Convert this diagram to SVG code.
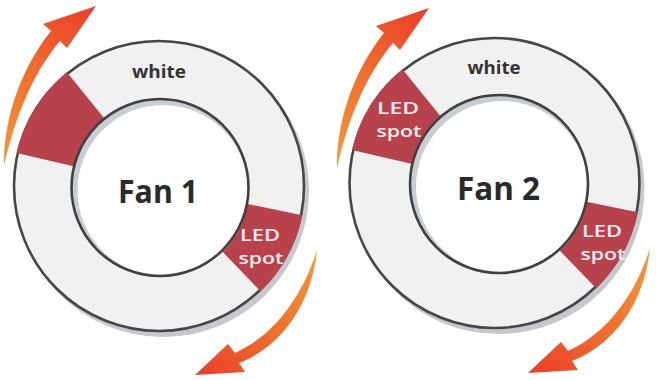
<svg xmlns="http://www.w3.org/2000/svg" width="657" height="380" viewBox="0 0 657 380">
<style>
.shadow{fill:#c6c8cc}
.ring{fill:#f1f1f1;stroke:#464646;stroke-width:2.6}
.spot{fill:#b8424b}
.incr{fill:#c9ccd1}
.inw{fill:#ffffff}
.inl{fill:none;stroke:#404040;stroke-width:2.6}
.lbl{font-family:"Open Sans","Liberation Sans",sans-serif;font-weight:700;fill:#333333;text-anchor:middle}
.fan{font-family:"Open Sans","Liberation Sans",sans-serif;font-weight:700;fill:#2a2a2a;text-anchor:middle;font-size:33px}
.led{font-family:"Open Sans","Liberation Sans",sans-serif;font-weight:600;fill:#fbeeee;text-anchor:middle;font-size:17px}
</style>
<defs>
<linearGradient id="gUp" gradientUnits="userSpaceOnUse" x1="5" y1="165" x2="96" y2="7">
<stop offset="0" stop-color="#f59a3a"/><stop offset="0.5" stop-color="#f0702c"/><stop offset="1" stop-color="#ea3e2a"/>
</linearGradient>
<linearGradient id="gDn" gradientUnits="userSpaceOnUse" x1="317" y1="250" x2="196" y2="374">
<stop offset="0" stop-color="#f59a3a"/><stop offset="0.5" stop-color="#f0702c"/><stop offset="1" stop-color="#ea3e2a"/>
</linearGradient>
</defs>
<rect width="657" height="380" fill="#ffffff"/>

<g id="fan1">
<circle class="shadow" cx="163" cy="191" r="146"/>
<circle class="ring" cx="159" cy="186" r="145"/>
<path class="spot" d="M16.45,153.09 A146.3,146.3 0 0 1 66.93,72.30 L108.65,123.83 A80,80 0 0 0 81.05,168 Z"/>
<path class="spot" d="M302.36,215.17 A146.3,146.3 0 0 1 260.63,291.24 L214.57,243.55 A80,80 0 0 0 237.39,201.95 Z"/>
<circle class="incr" cx="160" cy="187.5" r="88.5"/>
<circle class="inw" cx="163" cy="190.5" r="85.5"/>
<circle class="inl" cx="160" cy="187.5" r="88.5"/>
<text class="lbl" x="159" y="78" font-size="18" textLength="54" lengthAdjust="spacingAndGlyphs">white</text>
<text class="fan" x="158" y="203" textLength="80" lengthAdjust="spacingAndGlyphs">Fan 1</text>
<text class="led" x="260" y="241" textLength="40" lengthAdjust="spacingAndGlyphs">LED</text>
<text class="led" x="261" y="264" textLength="45" lengthAdjust="spacingAndGlyphs">spot</text>
</g>

<g id="fan2">
<circle class="shadow" cx="498.5" cy="188" r="146"/>
<circle class="ring" cx="494.5" cy="183" r="145"/>
<path class="spot" d="M351.95,150.09 A146.3,146.3 0 0 1 402.43,69.30 L444.15,120.83 A80,80 0 0 0 416.55,165 Z"/>
<path class="spot" d="M637.86,212.17 A146.3,146.3 0 0 1 596.13,288.24 L550.07,240.55 A80,80 0 0 0 572.89,198.95 Z"/>
<circle class="incr" cx="499" cy="184" r="89"/>
<circle class="inw" cx="502" cy="187" r="86"/>
<circle class="inl" cx="499" cy="184" r="89"/>
<text class="lbl" x="494" y="74" font-size="18" textLength="53" lengthAdjust="spacingAndGlyphs">white</text>
<text class="fan" x="498.5" y="200" textLength="83" lengthAdjust="spacingAndGlyphs">Fan 2</text>
<text class="led" x="398" y="114" textLength="42" lengthAdjust="spacingAndGlyphs">LED</text>
<text class="led" x="399" y="137" textLength="45" lengthAdjust="spacingAndGlyphs">spot</text>
<text class="led" x="602" y="237" textLength="40" lengthAdjust="spacingAndGlyphs">LED</text>
<text class="led" x="603" y="260" textLength="45" lengthAdjust="spacingAndGlyphs">spot</text>
</g>

<g id="arrows">
<path id="arrow1-up" fill="url(#gUp)" d="M4,166 C3,125 18,72 51,31 L43,24 L96,6 L67,48 L60,41 C32,74 15,118 4,166 Z"/>
<path id="arrow1-down" fill="url(#gDn)" d="M317,250 C312,300 285,345 239,363 L245,372 L195,375 L228,344 L235,353 C275,335 303,295 317,250 Z"/>
<path id="arrow2-up" fill="url(#gUp)" transform="translate(333,2)" d="M4,166 C3,125 18,72 51,31 L43,24 L96,6 L67,48 L60,41 C32,74 15,118 4,166 Z"/>
<path id="arrow2-down" fill="url(#gDn)" transform="translate(333,-2)" d="M317,250 C312,300 285,345 239,363 L245,372 L195,375 L228,344 L235,353 C275,335 303,295 317,250 Z"/>
</g>
</svg>
